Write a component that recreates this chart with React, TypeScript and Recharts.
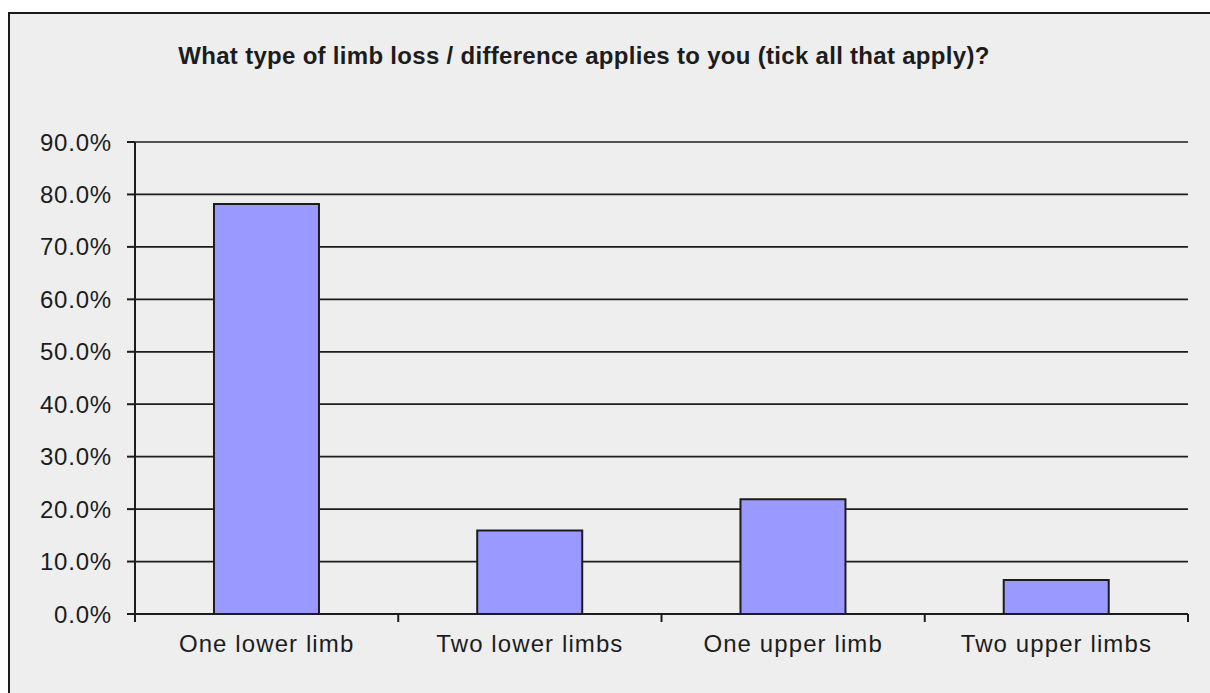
import React from 'react'
import { BarChart, Bar, XAxis, YAxis, CartesianGrid } from 'recharts'

const categories = ['One lower limb', 'Two lower limbs', 'One upper limb', 'Two upper limbs']
const shares = [0.782, 0.159, 0.219, 0.065]
const yTicks = [0, 0.1, 0.2, 0.3, 0.4, 0.5, 0.6, 0.7, 0.8, 0.9]
const title = 'What type of limb loss / difference applies to you (tick all that apply)?'

const data = categories.map((name, i) => ({ name, value: shares[i] }))

const FONT = '"Liberation Sans", Arial, sans-serif'
const INK = '#1c1c1c'

// category ticks: label centred in the band, tick marks on the band edges
function CategoryTick(props: any) {
  const { x, y, payload, index, visibleTicksCount } = props
  const half = payload.offset || 0
  const last = index === visibleTicksCount - 1
  return (
    <g>
      <line x1={x - half} x2={x - half} y1={y} y2={y + 8} stroke={INK} strokeWidth={2} />
      {last && <line x1={x + half} x2={x + half} y1={y} y2={y + 8} stroke={INK} strokeWidth={2} />}
      <text x={x} y={y + 21} dy="0.71em" textAnchor="middle" fill={INK} fontSize={24} letterSpacing={1.1} fontFamily={FONT}>
        {payload.value}
      </text>
    </g>
  )
}

export default function App() {
  return (
    <div style={{ position: 'fixed', left: 0, top: 0, width: 1210, height: 693, background: '#fff', overflow: 'hidden', fontFamily: FONT }}>
      <div style={{ position: 'absolute', left: 8, top: 12, width: 1220, height: 700, background: '#eeeeee', borderLeft: `2px solid ${INK}`, borderTop: `2px solid ${INK}` }} />
      <div style={{ position: 'absolute', left: 0, top: 0 }}>
        <BarChart width={1210} height={693} data={data} margin={{ top: 142, right: 22, bottom: 39, left: 0 }} barCategoryGap="30%">
          <text x={584} y={64} textAnchor="middle" fill={INK} fontSize={24} fontWeight={700} letterSpacing={0.3} fontFamily={FONT}>
            {title}
          </text>
          <CartesianGrid vertical={false} stroke={INK} strokeWidth={1.7} />
          <XAxis dataKey="name" height={40} tickLine={false} tickSize={0} tickMargin={0} axisLine={{ stroke: INK, strokeWidth: 2 }} tick={<CategoryTick />} interval={0} />
          <YAxis
            width={135}
            domain={[0, 0.9]}
            ticks={yTicks}
            interval={0}
            tickSize={8}
            tickMargin={15}
            axisLine={{ stroke: INK, strokeWidth: 2 }}
            tickLine={{ stroke: INK, strokeWidth: 2 }}
            tickFormatter={(v: number) => (v * 100).toFixed(1) + '%'}
            tick={{ fill: INK, fontSize: 24, letterSpacing: 0.8, fontFamily: FONT }}
          />
          <Bar dataKey="value" fill="#9999ff" stroke={INK} strokeWidth={2} isAnimationActive={false} />
        </BarChart>
      </div>
    </div>
  )
}
